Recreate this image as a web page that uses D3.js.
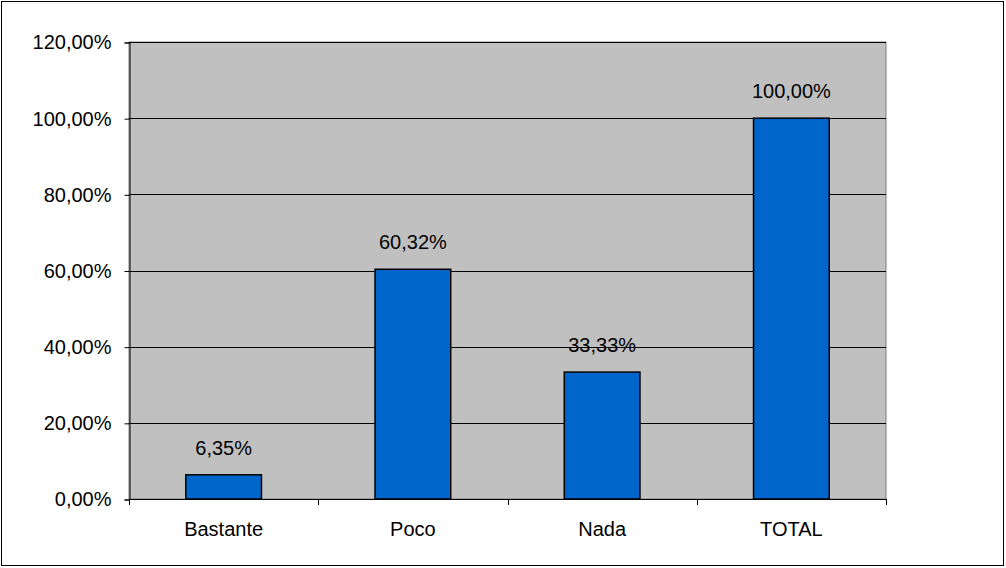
<!DOCTYPE html>
<html><head><meta charset="utf-8">
<script src="https://cdn.jsdelivr.net/npm/d3@7"></script>
<style>body{margin:0;background:#fff}svg{display:block}text{font-family:"Liberation Sans",Arial,sans-serif;fill:#000}</style>
</head><body>
<svg id="c" width="1006" height="568"></svg>
<script>
const categories = ["Bastante", "Poco", "Nada", "TOTAL"];
const values = [6.35, 60.32, 33.33, 100.00];
const yTicks = [0, 20, 40, 60, 80, 100, 120];

const svg = d3.select("#c");
const m = {l:129, t:42, r:886, b:499};
const fmt = v => v.toFixed(2).replace(".", ",") + "%";
const FS = "20px";

svg.append("rect").attr("x",1.5).attr("y",1.5).attr("width",1002).attr("height",564)
  .attr("fill","#fff").attr("stroke","#000").attr("stroke-width",1);

const x = d3.scaleBand().domain(categories).range([m.l, m.r]).paddingInner(0.6).paddingOuter(0.3);
const xb = d3.scaleBand().domain(categories).range([m.l, m.r]);
const y = d3.scaleLinear().domain([0,120]).range([m.b, m.t]);

svg.append("rect").attr("x",m.l).attr("y",m.t).attr("width",m.r-m.l).attr("height",m.b-m.t)
  .attr("fill","#c0c0c0").attr("stroke","#808080").attr("stroke-width",1);

svg.append("g").selectAll("line").data(yTicks.slice(1)).join("line")
  .attr("x1",m.l).attr("x2",m.r).attr("y1",d=>Math.round(y(d))+0.5).attr("y2",d=>Math.round(y(d))+0.5)
  .attr("stroke","#000").attr("stroke-width",1);

// y axis
const ya = d3.axisLeft(y).tickValues(yTicks).tickSize(5).tickPadding(13).tickFormat(d => d.toFixed(2).replace(".", ",") + "%");
const gy = svg.append("g").attr("transform",`translate(${m.l+0.5},0.5)`).call(ya);
gy.select(".domain").attr("stroke","#000");
gy.selectAll(".tick line").attr("stroke","#000");
gy.selectAll("text").style("font-size",FS).attr("fill","#000");

// bars
svg.append("g").selectAll("rect").data(values).join("rect")
  .attr("x",(d,i)=>x(categories[i])).attr("width",x.bandwidth())
  .attr("y",d=>y(d)).attr("height",d=>y(0)-y(d))
  .attr("fill","#0066cc").attr("stroke","#000").attr("stroke-width",1.5);

// x axis
svg.append("line").attr("x1",m.l).attr("x2",m.r).attr("y1",m.b+0.5).attr("y2",m.b+0.5).attr("stroke","#000");
const bounds = categories.map(c=>xb(c)).concat([m.r]);
svg.append("g").selectAll("line").data(bounds).join("line")
  .attr("x1",d=>Math.round(d)+0.5).attr("x2",d=>Math.round(d)+0.5).attr("y1",m.b).attr("y2",m.b+6).attr("stroke","#000");
svg.append("g").selectAll("text").data(categories).join("text")
  .attr("x",d=>xb(d)+xb.bandwidth()/2).attr("y",536).attr("text-anchor","middle")
  .style("font-size",FS).text(d=>d);

// value labels
svg.append("g").selectAll("text").data(values).join("text")
  .attr("x",(d,i)=>x(categories[i])+x.bandwidth()/2).attr("y",d=>y(d)-20).attr("text-anchor","middle")
  .style("font-size",FS).text(d=>fmt(d));
</script>
</body></html>
